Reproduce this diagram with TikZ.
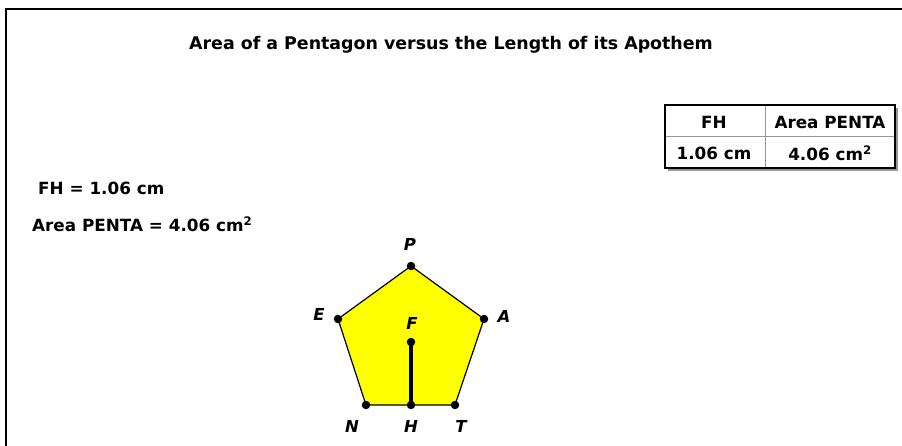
\documentclass[tikz,border=0pt]{standalone}
\usepackage{fontspec}
\setmainfont{DejaVu Sans}
\definecolor{penyellow}{RGB}{255,255,0}
\definecolor{shadowgray}{RGB}{150,150,150}
\begin{document}
\begin{tikzpicture}[x=1pt,y=-1pt,
  lbl/.style={font=\bfseries\fontsize{16.8}{19}\selectfont, inner sep=0pt},
  vlbl/.style={font=\bfseries\itshape\fontsize{16.5}{19}\selectfont, inner sep=0pt},
  tcell/.style={font=\bfseries\fontsize{16.8}{19}\selectfont, inner sep=0pt},
  pt/.style={fill=black, circle, inner sep=0pt, minimum size=8.5pt}]
\useasboundingbox (0,0) rectangle (902,446);
% frame
\draw[line width=2pt] (6,446) -- (6,9) -- (902,9);
% title
\node[font=\bfseries\fontsize{17.4}{20}\selectfont, inner sep=0pt] (title) at (451,45) {Area of a Pentagon versus the Length of its Apothem};
% table
\fill[shadowgray] (668,108) rectangle (898,171);
\fill[white] (665,105) rectangle (895,168);
\draw[shadowgray, line width=1pt] (765,105) -- (765,168);
\draw[shadowgray, line width=1pt] (665,137) -- (895,137);
\draw[black, line width=1.2pt] (665,105) rectangle (895,168);
\node[tcell] (h1) at (714,122) {FH};
\node[tcell] (h2) at (830,122) {Area PENTA};
\node[tcell] (v1) at (714,153) {1.06 cm};
\node[tcell] (v2) at (830,153) {4.06 cm$^{\mathbf{2}}$};
% left labels
\node[lbl, anchor=west] (fh) at (38,188) {FH = 1.06 cm};
\node[lbl, anchor=west] (area) at (32,224) {Area PENTA = 4.06 cm$^{\mathbf{2}}$};
% pentagon
\coordinate (P) at (411,266);
\coordinate (A) at (484,319);
\coordinate (T) at (455,405);
\coordinate (N) at (366,405);
\coordinate (E) at (338,319);
\coordinate (H) at (411,405);
\coordinate (F) at (411,342);
\draw[fill=penyellow, line width=1.2pt, line join=round] (P) -- (A) -- (T) -- (N) -- (E) -- cycle;
\draw[line width=3.5pt] (F) -- (H);
\foreach \q in {P,A,T,N,E,H,F} \node[pt] at (\q) {};
\node[vlbl] (lP) at (410,244) {P};
\node[vlbl] (lE) at (319,314) {E};
\node[vlbl] (lA) at (504,316) {A};
\node[vlbl] (lF) at (412,323) {F};
\node[vlbl] (lN) at (352,426) {N};
\node[vlbl] (lH) at (411,426) {H};
\node[vlbl] (lT) at (461,426) {T};
\end{tikzpicture}
\end{document}
